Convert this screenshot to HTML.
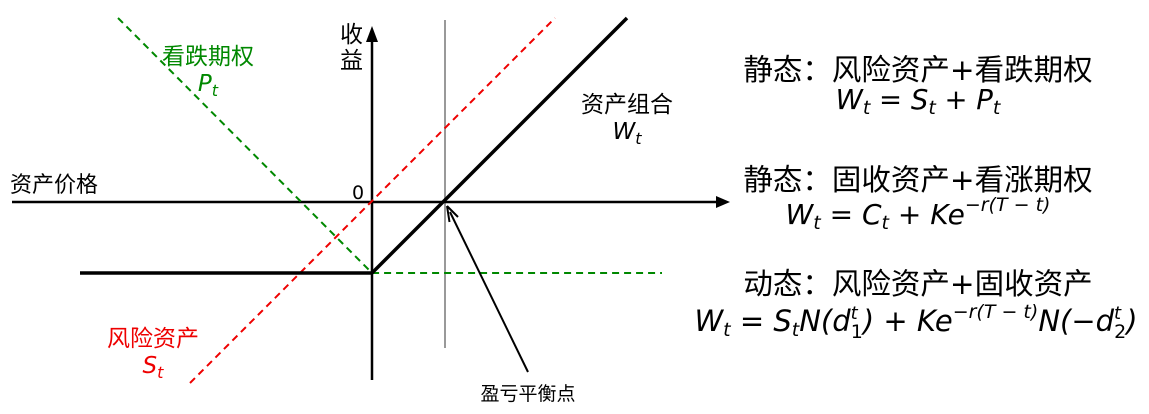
<!DOCTYPE html>
<html><head><meta charset="utf-8"><style>
html,body{margin:0;padding:0;background:#fff;}
svg{display:block;}
text{font-family:"DejaVu Sans","Noto Sans CJK SC",sans-serif;}
.m{font-family:"DejaVu Sans",sans-serif;font-style:italic;}
</style></head><body>
<svg width="1149" height="414" viewBox="0 0 1149 414">
<!-- grey vertical -->
<line x1="445" y1="20" x2="445" y2="348" stroke="#999" stroke-width="2"/>
<!-- x axis -->
<line x1="12" y1="202" x2="718" y2="202" stroke="#000" stroke-width="2.5"/>
<path d="M716,196 L730,202 L716,208 Z" fill="#000"/>
<!-- y axis -->
<line x1="372" y1="380" x2="372" y2="40" stroke="#000" stroke-width="2.5"/>
<path d="M366,42 L372,26 L378,42 Z" fill="#000"/>
<!-- green dashed -->
<polyline points="118,18 372,273 662,273" fill="none" stroke="#080" stroke-width="2" stroke-dasharray="7,5"/>
<!-- red dashed -->
<line x1="190" y1="383" x2="555" y2="18" stroke="#e00" stroke-width="2" stroke-dasharray="7,5"/>
<!-- black payoff -->
<polyline points="80,273 372,273 627,18" fill="none" stroke="#000" stroke-width="3.5"/>
<!-- annotation arrow -->
<line x1="528" y1="372" x2="450" y2="212" stroke="#000" stroke-width="2"/>
<path d="M447,206 L449.5,222 M447,206 L458,217" stroke="#000" stroke-width="2" fill="none"/>
<!-- labels -->
<text x="340" y="42" font-size="23">收</text>
<text x="340" y="68" font-size="23">益</text>
<text x="352" y="199" font-size="19">0</text>
<text x="10" y="192" font-size="22">资产价格</text>
<text x="208" y="64" font-size="23" fill="#080" text-anchor="middle">看跌期权</text>
<text x="208" y="91" font-size="23" fill="#080" text-anchor="middle" class="m">P<tspan font-size="16" dy="5">t</tspan></text>
<text x="153" y="346" font-size="23" fill="#e00" text-anchor="middle">风险资产</text>
<text x="153" y="373" font-size="23" fill="#e00" text-anchor="middle" class="m">S<tspan font-size="16" dy="5">t</tspan></text>
<text x="627" y="112" font-size="23" text-anchor="middle">资产组合</text>
<text x="627" y="139" font-size="23" text-anchor="middle" class="m">W<tspan font-size="16" dy="5">t</tspan></text>
<text x="528" y="400" font-size="19" text-anchor="middle">盈亏平衡点</text>
<!-- right formulas -->
<text x="918" y="80" font-size="29.5" text-anchor="middle">静态：风险资产+看跌期权</text>
<text x="918" y="109" font-size="27.5" text-anchor="middle" class="m">W<tspan font-size="19" dy="5">t</tspan><tspan dy="-5" font-style="normal"> = </tspan>S<tspan font-size="19" dy="5">t</tspan><tspan dy="-5" font-style="normal"> + </tspan>P<tspan font-size="19" dy="5">t</tspan></text>
<text x="918" y="190" font-size="29.5" text-anchor="middle">静态：固收资产+看涨期权</text>
<text x="918" y="224" font-size="28" text-anchor="middle" class="m">W<tspan font-size="19" dy="5">t</tspan><tspan dy="-5" font-style="normal"> = </tspan>C<tspan font-size="19" dy="5">t</tspan><tspan dy="-5" font-style="normal"> + </tspan>Ke<tspan font-size="19" dy="-13">−r(T − t)</tspan></text>
<text x="918" y="294" font-size="29.5" text-anchor="middle">动态：风险资产+固收资产</text>
<text x="916" y="331" font-size="29" text-anchor="middle" class="m">W<tspan font-size="19" dy="5">t</tspan><tspan dy="-5" font-style="normal"> = </tspan>S<tspan font-size="19" dy="5">t</tspan><tspan dy="-5">N(d</tspan><tspan font-size="18" dy="-12">t</tspan><tspan font-size="19" dx="-7" dy="19" font-style="normal">1</tspan><tspan dy="-7">) + Ke</tspan><tspan font-size="19" dy="-13">−r(T − t)</tspan><tspan dy="13">N(−d</tspan><tspan font-size="18" dy="-12">t</tspan><tspan font-size="19" dx="-7" dy="19" font-style="normal">2</tspan><tspan dy="-7">)</tspan></text>
</svg>
</body></html>
